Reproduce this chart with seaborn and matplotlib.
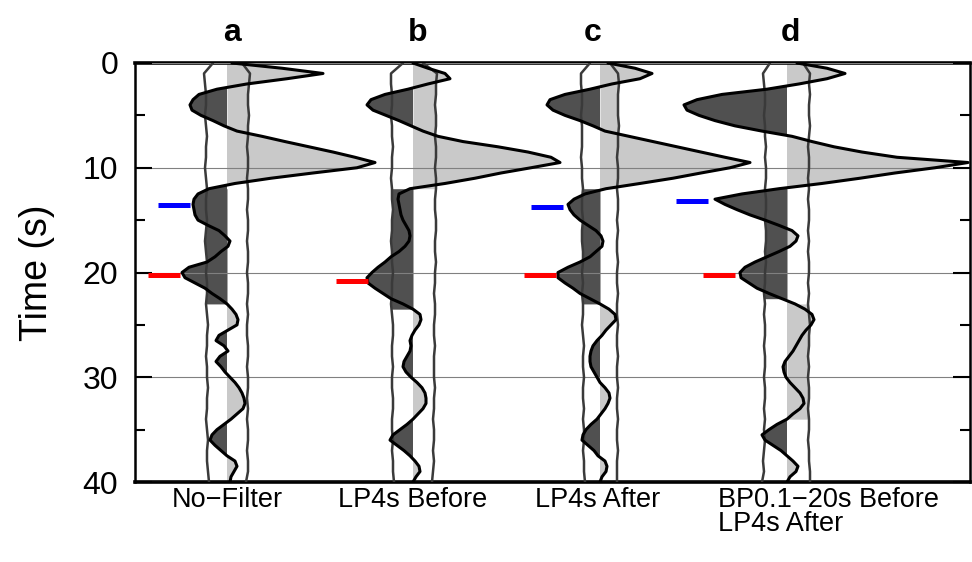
import numpy as np
import pandas as pd
import matplotlib
matplotlib.use("Agg")
import matplotlib.pyplot as plt
import matplotlib.transforms as mtransforms
import seaborn as sns

# ---------------------------------------------------------------- data
# sample times of the traces (s) and of the envelope curves (s)
time = np.arange(0, 40.5, 0.5)
env_time = np.arange(0, 41, 1.0)

panel_letters = ["a", "b", "c", "d"]
panel_labels = ["No\u2212Filter", "LP4s Before", "LP4s After",
                "BP0.1\u221220s Before\nLP4s After"]

# trace amplitudes (plot units, positive to the right of each zero line)
amp_a = [5, 55, 96, 60, 20, -10, -28, -34, -37, -35,
         -26, -14, -3, 10, 35, 58, 82, 106, 128, 148,
         130, 86, 44, 8, -18, -29, -33, -34, -33, -32,
         -29, -19, -8, -2, 3, 1, -6, -12, -20, -38,
         -45, -42, -32, -22, -15, -7, 0, 5, 9, 11,
         10, 1, -8, -11, -3, 1, -7, -11, -6, -2,
         3, 8, 12, 15, 17, 18, 16, 10, 4, -3,
         -10, -15, -17, -12, -6, 0, 8, 10, 7, 4,
         3]
amp_b = [0, 15, 32, 37, 15, -5, -28, -42, -46, -40,
         -27, -14, -2, 10, 25, 50, 85, 115, 138, 147,
         118, 88, 62, 32, -3, -14, -15, -14, -13, -12,
         -10, -7, -4, -3, -4, -8, -14, -22, -28, -35,
         -41, -46, -45, -38, -30, -22, -10, 0, 7, 8,
         6, 2, -1, -3, -2, -3, -6, -9, -10, -7,
         -2, 4, 9, 12, 13, 13, 10, 5, 0, -6,
         -13, -20, -23, -16, -9, -3, 2, 6, 7, 3,
         0]
amp_c = [8, 35, 52, 40, 12, -10, -35, -50, -53, -47,
         -35, -20, -7, 5, 29, 53, 77, 101, 125, 150,
         130, 101, 73, 40, 6, -15, -26, -32, -30, -26,
         -20, -12, -4, 1, 3, 2, -4, -10, -20, -32,
         -42, -42, -35, -27, -20, -10, 0, 9, 15, 16,
         11, 6, 2, -3, -7, -9, -10, -10, -9, -6,
         -3, 0, 5, 9, 10, 8, 5, 1, -3, -9,
         -14, -17, -18, -12, -6, -2, 5, 7, 6, 2,
         0]
amp_d = [10, 40, 58, 40, 12, -20, -65, -90, -103, -100,
         -88, -72, -52, -25, 5, 25, 47, 75, 110, 181,
         148, 108, 73, 35, -8, -45, -72, -62, -50, -37,
         -22, -8, 5, 11, 9, 3, -8, -20, -32, -42,
         -47, -46, -38, -30, -18, -5, 8, 18, 25, 27,
         24, 19, 15, 12, 9, 6, 2, -2, -4, -3,
         -1, 3, 8, 13, 16, 17, 13, 6, 0, -10,
         -18, -25, -22, -14, -6, 0, 6, 11, 9, 3,
         0]

# envelope curves on either side of each trace
env_a_left = [-14, -23, -22, -21, -21, -22, -21, -20, -21, -21,
              -22, -21, -20, -21, -21, -20, -21, -22, -21, -20,
              -21, -20, -20, -21, -20, -19, -20, -20, -21, -20,
              -20, -19, -20, -20, -21, -20, -19, -20, -20, -19,
              -18]
env_a_right = [15, 23, 22, 21, 21, 22, 21, 21, 20, 21,
               21, 20, 21, 21, 20, 21, 21, 20, 21, 21,
               20, 21, 21, 20, 21, 20, 20, 21, 21, 20,
               21, 21, 20, 21, 20, 21, 21, 20, 21, 21,
               19]
env_b_left = [-10, -22, -22, -21, -21, -22, -21, -21, -20, -21,
              -21, -22, -21, -21, -20, -21, -21, -22, -21, -21,
              -20, -21, -21, -22, -21, -20, -20, -21, -21, -20,
              -21, -21, -20, -20, -21, -21, -20, -21, -20, -20,
              -19]
env_b_right = [10, 24, 23, 23, 22, 23, 23, 22, 23, 23,
               22, 23, 23, 22, 22, 23, 23, 22, 22, 23,
               22, 22, 21, 22, 22, 21, 21, 22, 21, 21,
               21, 22, 21, 21, 20, 21, 21, 20, 21, 20,
               19]
env_c_left = [-10, -19, -19, -18, -18, -19, -18, -18, -18, -19,
              -18, -18, -17, -18, -18, -17, -18, -18, -17, -17,
              -18, -17, -18, -17, -17, -18, -17, -16, -17, -17,
              -16, -17, -17, -16, -17, -16, -16, -17, -16, -16,
              -15]
env_c_right = [10, 18, 19, 18, 18, 18, 19, 18, 18, 17,
               18, 18, 17, 18, 18, 17, 18, 17, 17, 18,
               17, 17, 18, 17, 17, 18, 17, 17, 18, 17,
               17, 18, 17, 17, 18, 17, 17, 18, 17, 17,
               17]
env_d_left = [-17, -24, -23, -22, -22, -23, -22, -22, -21, -22,
              -21, -21, -22, -21, -21, -22, -21, -21, -22, -21,
              -22, -22, -23, -22, -23, -22, -22, -23, -22, -22,
              -23, -22, -22, -23, -22, -23, -22, -23, -24, -23,
              -25]
env_d_right = [16, 23, 22, 23, 22, 22, 23, 22, 21, 22,
               22, 21, 22, 21, 22, 22, 21, 22, 21, 22,
               22, 21, 22, 21, 22, 23, 22, 22, 21, 22,
               21, 22, 22, 21, 22, 22, 21, 22, 22, 23,
               23]

# shaded bands between zero line and envelope: (shade, start s, end s)
bands_a = [("pos", 0.0, 11.5), ("neg", 12.0, 23.0)]
bands_b = [("pos", 0.0, 12.0), ("neg", 12.0, 23.5)]
bands_c = [("pos", 0.0, 12.0), ("neg", 12.0, 23.0)]
bands_d = [("neg", 12.0, 22.5), ("pos", 23.0, 34.0)]

# phase picks: time (s) and the amplitude where the pick bar ends
blue_pick_time = [13.6, None, 13.7, 13.2]
blue_pick_end = [-37, None, -37, -79]
red_pick_time = [20.2, 20.8, 20.2, 20.2]
red_pick_end = [-47, -45, -44, -52]

# ---------------------------------------------------------------- layout
zero_lines = [92, 278, 465, 652]
pick_len = 32
dark_fill = "#505050"
light_fill = "#c9c9c9"

amps = [amp_a, amp_b, amp_c, amp_d]
env_left = [env_a_left, env_b_left, env_c_left, env_d_left]
env_right = [env_a_right, env_b_right, env_c_right, env_d_right]
bands = [bands_a, bands_b, bands_c, bands_d]

sns.set_style("ticks")
plt.rcParams["font.family"] = ["Liberation Sans", "DejaVu Sans"]
plt.rcParams["text.color"] = "black"
plt.rcParams["axes.labelcolor"] = "black"
plt.rcParams["ytick.color"] = "black"
plt.rcParams["ytick.labelcolor"] = "black"

fig = plt.figure(figsize=(9.72, 5.62), dpi=100)
ax = fig.add_axes([135 / 972, 80 / 562, 835 / 972, 419 / 562])

# long tables for seaborn
trace_df = pd.concat(
    [pd.DataFrame({"time": time, "x": z + np.asarray(a, float), "trace": name})
     for name, z, a in zip(panel_letters, zero_lines, amps)],
    ignore_index=True)
env_df = pd.concat(
    [pd.DataFrame({"time": env_time, "x": z + np.asarray(e, float),
                   "curve": f"{name}-{side}"})
     for name, z, el, er in zip(panel_letters, zero_lines, env_left, env_right)
     for side, e in (("left", el), ("right", er))],
    ignore_index=True)

# wiggle fills
for z, a, el, er, bl in zip(zero_lines, amps, env_left, env_right, bands):
    x = z + np.asarray(a, float)
    ax.fill_betweenx(time, z, x, where=x < z, interpolate=True,
                     color=dark_fill, lw=0, zorder=1)
    ax.fill_betweenx(time, z, x, where=x > z, interpolate=True,
                     color=light_fill, lw=0, zorder=1)
    left_edge = z + np.interp(time, env_time, el)
    right_edge = z + np.interp(time, env_time, er)
    for shade, t0, t1 in bl:
        m = (time >= t0) & (time <= t1)
        if shade == "neg":
            ax.fill_betweenx(time, left_edge, z, where=m, color=dark_fill,
                             lw=0, zorder=1)
        else:
            ax.fill_betweenx(time, z, right_edge, where=m, color=light_fill,
                             lw=0, zorder=1)

# envelopes and traces
sns.lineplot(data=env_df, x="x", y="time", units="curve", estimator=None,
             orient="y", color="#3a3a3a", lw=1.8, ax=ax, zorder=3)
sns.lineplot(data=trace_df, x="x", y="time", hue="trace",
             palette=["black"] * 4, estimator=None, orient="y",
             legend=False, lw=2.2, ax=ax, zorder=4)

# phase picks
for z, tb, eb, tr, er in zip(zero_lines, blue_pick_time, blue_pick_end,
                             red_pick_time, red_pick_end):
    if tb is not None:
        ax.plot([z + eb - pick_len, z + eb], [tb, tb], color="#0000ff",
                lw=3.6, solid_capstyle="butt", zorder=5)
    ax.plot([z + er - pick_len, z + er], [tr, tr], color="#ff0000",
            lw=3.6, solid_capstyle="butt", zorder=5)

# axes
ax.set_xlim(0, 835)
ax.set_ylim(40, 0)
ax.set_xticks([])
ax.set_xlabel("")
ax.set_yticks([0, 10, 20, 30, 40])
ax.set_yticks([5, 15, 25, 35], minor=True)
ax.set_yticklabels(["0", "10", "20", "30", "40"])
ax.set_axisbelow(False)
ax.grid(axis="y", which="major", color="#808080", lw=0.8)
ax.tick_params(axis="y", which="both", direction="in", left=True, right=True,
               width=1.5, color="black", labelcolor="black")
ax.tick_params(axis="y", which="major", length=12, labelsize=23, pad=12)
ax.tick_params(axis="y", which="minor", length=7)
for side, lw in (("top", 2.6), ("bottom", 2.6), ("left", 1.8), ("right", 1.8)):
    ax.spines[side].set_visible(True)
    ax.spines[side].set_linewidth(lw)
    ax.spines[side].set_color("black")

ax.set_ylabel("Time (s)", fontsize=27, color="black")
ax.yaxis.set_label_coords(-0.096, 0.5)

trans = mtransforms.blended_transform_factory(ax.transData, ax.transAxes)
title_x = [97, 283, 458, 655]
for letter, tx in zip(panel_letters, title_x):
    ax.text(tx, 1.0525, letter, transform=trans, ha="center", va="baseline",
            fontsize=23, fontweight="bold", color="black")

label_x = [92, 278, 463, 583]
label_ha = ["center", "center", "center", "left"]
for lab, lx, ha in zip(panel_labels, label_x, label_ha):
    ax.text(lx, -0.012, lab, transform=trans, ha=ha, va="top",
            fontsize=19.5, linespacing=0.92, color="black")

fig.savefig("out.png", dpi=100)
